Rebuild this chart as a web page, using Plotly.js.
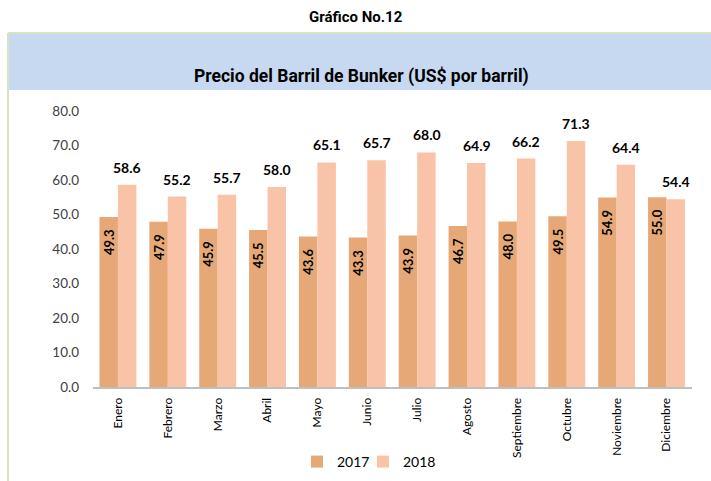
<!DOCTYPE html>
<html>
<head>
<meta charset="utf-8">
<script src="https://cdn.plot.ly/plotly-3.0.1.min.js"></script>
<style>html,body{margin:0;padding:0;background:#fff;}#chart{width:711px;height:481px;}</style>
</head>
<body>
<div id="chart"></div>
<script>
const months = ["Enero","Febrero","Marzo","Abril","Mayo","Junio","Julio","Agosto","Septiembre","Octubre","Noviembre","Diciembre"];
const values2017 = [49.3,47.9,45.9,45.5,43.6,43.3,43.9,46.7,48.0,49.5,54.9,55.0];
const values2018 = [58.6,55.2,55.7,58.0,65.1,65.7,68.0,64.9,66.2,71.3,64.4,54.4];
const yTicks = [0,10,20,30,40,50,60,70,80];

const L=93, R=19, T=111, B=94, W=711, H=481;
const pw = W-L-R, ph = H-T-B;
const px = x => (x-L)/pw;
const py = y => (H-B-y)/ph;
const labelFont = 'Lato, "Open Sans", sans-serif';

const trace2017 = {
  type:'bar', name:'2017', x:months, y:values2017, legend:'legend',
  marker:{color:'#E6A877'},
  text:values2017.map(v=>v.toFixed(1)+'\u00A0\u00A0\u00A0'),
  textposition:'inside', insidetextanchor:'end', textangle:-90,
  insidetextfont:{family:labelFont, size:13, color:'#000', weight:'bold'},
  constraintext:'none', hoverinfo:'none'
};
const trace2018 = {
  type:'bar', name:'2018', x:months, y:values2018, legend:'legend2',
  marker:{color:'#F9C3A7'},
  textposition:'none', hoverinfo:'none'
};

// 2018 value labels placed at the data values via the axis scales (offset to the 2018 bar within each group)
const labels2018 = values2018.map((v,i)=>({
  xref:'x', yref:'y', x:i+0.19, y:v, xanchor:'center', yanchor:'bottom', yshift:7,
  showarrow:false, text:v.toFixed(1),
  font:{family:labelFont, size:14, color:'#000', weight:'bold'}
}));

const legendCommon = {orientation:'h', xref:'container', yref:'container', xanchor:'left', yanchor:'middle',
  y:(H-462)/H, font:{family:labelFont, size:14, color:'#000'}, itemwidth:30, bgcolor:'rgba(0,0,0,0)'};

const layout = {
  width:W, height:H,
  margin:{l:L, r:R, t:T, b:B, pad:0, autoexpand:false},
  paper_bgcolor:'#fff', plot_bgcolor:'rgba(0,0,0,0)',
  barmode:'group', bargap:0.26, bargroupgap:0,
  showlegend:true,
  legend:Object.assign({}, legendCommon, {x:297/W}),
  legend2:Object.assign({}, legendCommon, {x:363/W}),
  font:{family:labelFont, color:'#000'},
  xaxis:{
    type:'category', tickangle:-90, showgrid:false, zeroline:false,
    showline:true, linecolor:'#BFBFBF', linewidth:2,
    ticks:'', tickfont:{family:labelFont, size:12, color:'#000'},
    ticklabelstandoff:4, fixedrange:true, automargin:false
  },
  yaxis:{
    range:[0,80], tickvals:yTicks, ticktext:yTicks.map(v=>v.toFixed(1)),
    showgrid:false, zeroline:false, showline:false, ticks:'',
    ticklabelstandoff:13, automargin:false,
    tickfont:{family:labelFont, size:13.5, color:'#404040'}, fixedrange:true
  },
  shapes:[
    {type:'rect', xref:'paper', yref:'paper', x0:px(8), x1:px(712), y0:py(90), y1:py(33),
     fillcolor:'#C6D9F1', line:{width:0}, layer:'below'},
    {type:'line', xref:'paper', yref:'paper', x0:px(8), x1:px(712), y0:py(33), y1:py(33),
     line:{color:'#D7E4BD', width:2}},
    {type:'line', xref:'paper', yref:'paper', x0:px(8), x1:px(8), y0:py(33), y1:py(481),
     line:{color:'#D7E4BD', width:2}}
  ],
  annotations:[
    {xref:'paper', yref:'paper', x:px(356), y:py(17), xanchor:'center', yanchor:'middle', showarrow:false,
     text:'Gráfico No.12', font:{family:'"Liberation Sans Narrow", "Roboto", sans-serif', size:15, color:'#000', weight:'bold'}},
    {xref:'paper', yref:'paper', x:px(361), y:py(76), xanchor:'center', yanchor:'middle', showarrow:false,
     text:'Precio del Barril de Bunker (US$ por barril)', font:{family:'"Liberation Sans Narrow", "Roboto", sans-serif', size:17.5, color:'#000', weight:'bold'}}
  ].concat(labels2018)
};

Plotly.newPlot('chart',[trace2017, trace2018],layout,{displayModeBar:false, staticPlot:true});
</script>
</body>
</html>
